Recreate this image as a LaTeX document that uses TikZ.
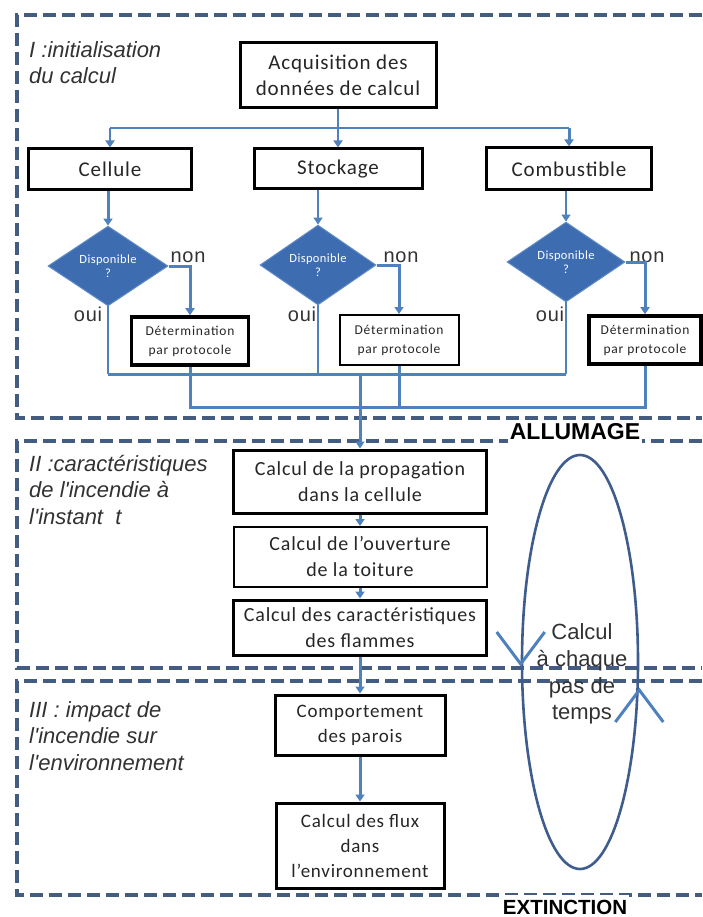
\documentclass[tikz,border=0pt]{standalone}
\usepackage{fontspec}
\setmainfont{Carlito}
\newfontfamily\arialf{Liberation Sans}
\usetikzlibrary{shapes.geometric,arrows.meta}
\definecolor{conn}{RGB}{79,129,189}
\definecolor{dashc}{RGB}{68,92,128}
\definecolor{diafill}{RGB}{61,109,176}
\definecolor{diadraw}{RGB}{95,140,200}
\definecolor{ellc}{RGB}{62,92,140}
\definecolor{titc}{RGB}{50,50,50}
\begin{document}
\begin{tikzpicture}[x=1pt,y=-1pt,
  region/.style={draw=dashc,line width=3.4pt,dash pattern=on 13pt off 6pt},
  boxw/.style={draw=black,fill=white,line width=3pt,align=center,inner sep=0pt,text=black!85},
  medbox/.style={boxw,line width=2pt},
  bigtxt/.style={font=\fontsize{21}{26}\selectfont\addfontfeature{LetterSpace=4}},
  ptxt/.style={font=\fontsize{20}{26}\selectfont\addfontfeature{LetterSpace=4}},
  ctxt/.style={font=\fontsize{19}{25}\selectfont\addfontfeature{LetterSpace=4}},
  dtxt/.style={font=\fontsize{13.5}{19}\selectfont\addfontfeature{LetterSpace=6}},
  title/.style={font=\arialf\itshape\fontsize{22}{26.5}\selectfont,text=titc,align=left,inner sep=0pt,anchor=north west},
  lbl/.style={font=\arialf\fontsize{20}{24}\selectfont\addfontfeature{LetterSpace=4},text=titc,inner sep=0pt},
  dia/.style={diamond,fill=diafill,draw=diadraw,line width=1pt,inner sep=0pt,text=white,align=center,
    font=\fontsize{12.5}{14}\selectfont\addfontfeature{LetterSpace=3}},
  link/.style={draw=conn,line width=3pt},
  thinlink/.style={draw=conn,line width=1.5pt},
  arr/.style={-{Triangle[width=9pt,length=7pt]}},
  phase/.style={font=\arialf\bfseries\fontsize{23}{26}\selectfont,fill=white,inner xsep=2pt,inner ysep=3pt,text=black},
  chev/.style={draw=conn,line width=3pt}
]
\useasboundingbox (0,0) rectangle (702,917);

% regions
\draw[region] (702,15) -- (17,15) -- (17,418) -- (702,418);
\draw[region] (702,441) -- (17,441) -- (17,668) -- (702,668);
\draw[region] (702,681) -- (17,681) -- (17,895) -- (702,895);

% titles
\node[title] (t1) at (29,41) {I :initialisation\\du calcul};
\node[title] (t2) at (29,455) {II :caractéristiques\\de l'incendie à\\l'instant \ t};
\node[title] (t3) at (29,701) {III : impact de\\l'incendie sur\\l'environnement};

% phase I
\node[boxw,bigtxt,minimum width=196pt,minimum height=65pt] (acq) at (338,75.5) {Acquisition des\\données de calcul};
\node[boxw,bigtxt,minimum width=163pt,minimum height=41pt] (cel) at (110,169.5) {Cellule};
\node[boxw,bigtxt,minimum width=168pt,minimum height=40pt] (sto) at (338,169) {Stockage};
\node[boxw,bigtxt,minimum width=165pt,minimum height=42pt] (com) at (569,169) {Combustible};

\node[dia,minimum width=120pt,minimum height=58pt] (d1) at (108,266) {Disponible\\?};
\node[dia,minimum width=116pt,minimum height=58pt] (d2) at (318,265) {Disponible\\?};
\node[dia,minimum width=118pt,minimum height=58pt] (d3) at (566,262) {Disponible\\?};

\node[boxw,dtxt,minimum width=117pt,minimum height=48pt,line width=3.6pt] (det1) at (190,341) {Détermination\\par protocole};
\node[medbox,dtxt,minimum width=119pt,minimum height=50pt] (det2) at (399,340) {Détermination\\par protocole};
\node[boxw,dtxt,minimum width=112pt,minimum height=48pt,line width=3.6pt] (det3) at (645,340) {Détermination\\par protocole};

\node[lbl] (n1) at (188,257) {non};
\node[lbl] (n2) at (401,257) {non};
\node[lbl] (n3) at (647,257) {non};
\node[lbl] (o1) at (88,314) {oui};
\node[lbl] (o2) at (302,314) {oui};
\node[lbl] (o3) at (550,314) {oui};

% phase II
\node[boxw,ptxt,minimum width=253pt,minimum height=63pt] (p1) at (360,481.5) {Calcul de la propagation\\dans la cellule};
\node[medbox,ptxt,minimum width=253pt,minimum height=60pt] (p2) at (360,557) {Calcul de l'ouverture\\de la toiture};
\node[boxw,ptxt,minimum width=253pt,minimum height=55pt] (p3) at (360,627.5) {Calcul des caractéristiques\\des flammes};

% phase III
\node[boxw,ctxt,minimum width=170pt,minimum height=60pt] (c1) at (360,725) {Comportement\\des parois};
\node[boxw,ctxt,minimum width=168pt,minimum height=85pt] (c2) at (360,845.5) {Calcul des flux\\dans\\l'environnement};

% phase labels
\node[phase] (allu) at (575,431.5) {ALLUMAGE};
\node[phase,font=\arialf\bfseries\fontsize{20.5}{24}\selectfont,inner ysep=5pt] (ext) at (565,907) {EXTINCTION};

% connectors phase I
\coordinate (hub) at (338,128);
\coordinate (j1) at (360,374);
\coordinate (j2) at (360,407);
\draw[link,line width=2pt] (acq.south) -- (hub);
\draw[link,line width=2.6pt] (cel.north |- hub) -- (com.north |- hub);
\draw[link,line width=2.2pt,arr] (cel.north |- hub) -- (cel.north);
\draw[link,line width=2pt,arr] (hub) -- (sto.north);
\draw[link,arr] (com.north |- hub) -- (com.north);

\draw[link,arr] (d1.north |- cel.south) -- (d1.north);
\draw[thinlink,arr] (d2.north |- sto.south) -- (d2.north);
\draw[thinlink,arr] (d3.north |- com.south) -- (d3.north);

\draw[link,arr] (d1.east) -| (det1.north);
\draw[link,arr] (d2.east) -| (det2.north);
\draw[link,arr] (d3.east) -| (det3.north);

\draw[link,line width=2pt] (d1.south) -- (d1.south |- j1);
\draw[link,line width=2pt] (d2.south) -- (d2.south |- j1);
\draw[link,line width=2pt] (d3.south) -- (d3.south |- j1);
\draw[link] (d1.south |- j1) -- (d3.south |- j1);

\draw[link] (det1.south) -- (det1.south |- j2) -- (det3.south |- j2) -- (det3.south);
\draw[link] (det2.south) -- (det2.south |- j2);

\draw[link,arr] (j1) -- (p1.north);
\draw[link,arr] (p1.south) -- (p2.north);
\draw[link,arr] (p2.south) -- (p3.north);
\draw[link,arr] (p3.south) -- (c1.north);
\draw[link,arr] (c1.south) -- (c2.north);

% time loop
\node[draw=ellc,line width=2.6pt,ellipse,minimum width=116pt,minimum height=414pt,inner sep=0pt] (loop) at (580,662) {};
\node[font=\arialf\fontsize{22}{26.7}\selectfont,text=titc,align=center,inner sep=0pt] (lt) at (582,674) {Calcul\\à chaque\\pas de\\temps};
\path (loop.west) ++(0,2) coordinate (lc);
\path (loop.east) ++(0,28) coordinate (rc);
\draw[chev] (lc) ++(-24,-32) -- (lc) -- ++(24,-32);
\draw[chev] (rc) ++(-24,32) -- (rc) -- ++(24,32);
\end{tikzpicture}
\end{document}
